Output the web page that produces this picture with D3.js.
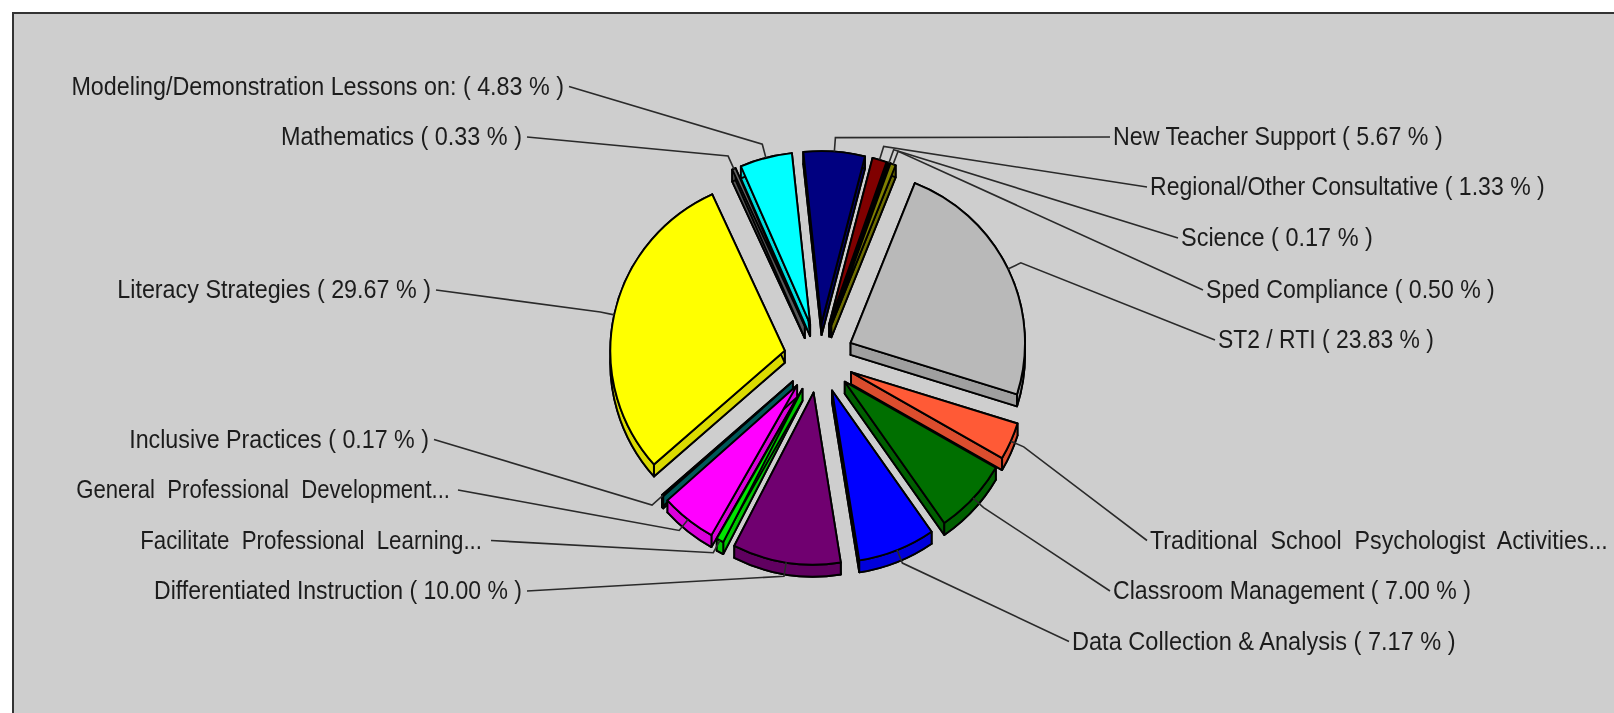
<!DOCTYPE html>
<html><head><meta charset="utf-8">
<script src="https://cdn.jsdelivr.net/npm/d3@7"></script>
<style>html,body{margin:0;padding:0;background:#fff;overflow:hidden}svg{display:block;filter:blur(0.5px)}</style>
</head><body><div id="c"></div>
<script>
// --- data, clockwise from the top ---
const categories = ["New Teacher Support","Regional/Other Consultative","Science","Sped Compliance","ST2 / RTI",
  "Traditional School Psychologist Activities","Classroom Management","Data Collection & Analysis","Differentiated Instruction",
  "Facilitate Professional Learning","General Professional Development","Inclusive Practices","Literacy Strategies","Mathematics","Modeling/Demonstration Lessons on:"];
const values = [5.67,1.33,0.17,0.50,23.83,3.50,7.00,7.17,10.00,0.67,5.16,0.17,29.67,0.33,4.83];
const truncated = {5:"Traditional  School  Psychologist  Activities...",9:"Facilitate  Professional  Learning...",10:"General  Professional  Development..."};
const colors = ["#000080","#800000","#000000","#808000","#b9b9b9","#ff5a36","#006f00","#0000ff","#700070","#00e600","#ff00ff","#006666","#ffff00","#666666","#00ffff"];

// --- layout ---
const W=1614,H=713, cx=819, cy=358, R=172, xStretch=1.014, explode=35, depth=12, elbowLen=14;
const rowIndex  = [1,2,3,4,5,9,10,11,10,9,8,7,4,1,0];
const labelEdge = [1113,1150,1181,1206,1218,1150,1113,1072,522,482,450,429,431,522,564];
const labelWidth= [330,395,192,289,216,458,358,384,368,342,374,300,314,241,493];
const linePad   = {9:9,10:8};
const rowPositions=[86.5,137,187,238,290,340,389,439.5,490,540.5,591,641.5];
const rowY = d3.scaleOrdinal().domain(d3.range(12)).range(rowPositions);
const rad = d=>d*Math.PI/180;

const svg=d3.select("#c").append("svg").attr("width",W).attr("height",H);
svg.append("rect").attr("x",13).attr("y",13).attr("width",W+20).attr("height",H+20)
  .attr("fill","#cecece").attr("stroke","#333").attr("stroke-width",2);

const pie=d3.pie().sort(null).value(d=>d).startAngle(rad(-6)).endAngle(rad(354));
const arcs=pie(values).map((a,i)=>{
  const mid=(a.startAngle+a.endAngle)/2;
  return {...a,i,mid,ax:cx+explode*Math.sin(mid),ay:cy-explode*Math.cos(mid)};
});
const topArc=d3.arc().innerRadius(0).outerRadius(R);
const edge=t=>[R*Math.sin(t),-R*Math.cos(t)];
function radialWall(t){const [x,y]=edge(t);const p=d3.path();p.moveTo(0,0);p.lineTo(x,y);p.lineTo(x,y+depth);p.lineTo(0,depth);p.closePath();return p.toString();}
function band(a){const p=d3.path();const s=a.startAngle-Math.PI/2,e=a.endAngle-Math.PI/2;
  p.arc(0,0,R,s,e,false);const [x,y]=edge(a.endAngle);p.lineTo(x,y+depth);p.arc(0,depth,R,e,s,true);p.closePath();return p.toString();}

const order=arcs.slice().sort((a,b)=>Math.cos(b.mid)-Math.cos(a.mid));
const g=svg.selectAll("g.slice").data(order).join("g").attr("class","slice")
  .attr("transform",d=>`translate(${d.ax},${d.ay}) scale(${xStretch},1)`)
  .attr("stroke","#000").attr("stroke-width",1.9).attr("stroke-linejoin","round");
const dark=d=>{const c=d3.rgb(colors[d.i]);return d3.rgb(c.r*.86,c.g*.86,c.b*.86).formatHex();};
g.append("path").attr("d",topArc).attr("transform",`translate(0,${depth})`).attr("fill",dark);
g.append("path").attr("d",d=>radialWall(d.startAngle)).attr("fill",dark);
g.append("path").attr("d",d=>radialWall(d.endAngle)).attr("fill",dark);
g.append("path").attr("d",band).attr("fill",dark);
g.append("path").attr("d",topArc).attr("fill",d=>colors[d.i]);

// leader lines
const isLeft=i=>i>=8;
svg.append("g").selectAll("path").data(arcs).join("path")
  .attr("fill","none").attr("stroke","#2a2a2a").attr("stroke-width",1.6)
  .attr("d",d=>{
    const s=Math.sin(d.mid)*xStretch,c=Math.cos(d.mid);
    const pts=[[d.ax+R*s,d.ay-R*c],[d.ax+(R+elbowLen)*s,d.ay-(R+elbowLen)*c],
      [labelEdge[d.i]+(isLeft(d.i)?(linePad[d.i]||5):-3),rowY(rowIndex[d.i])]];
    return d3.line()(pts);
  });

// labels: squeezed horizontally to the reference's narrow lettering
svg.append("g").selectAll("text").data(arcs).join("text")
  .attr("text-anchor",d=>isLeft(d.i)?"end":"start")
  .attr("font-family","'Liberation Sans',sans-serif")
  .attr("font-size",26).attr("fill","#1c1c1c")
  .style("white-space","pre")
  .text(d=>truncated[d.i]||`${categories[d.i]} ( ${values[d.i].toFixed(2)} % )`)
  .attr("transform",function(d){
    const sx=labelWidth[d.i]/this.getComputedTextLength();
    return `translate(${labelEdge[d.i]},${rowY(rowIndex[d.i])+8}) scale(${sx},1)`;
  });
</script></body></html>
